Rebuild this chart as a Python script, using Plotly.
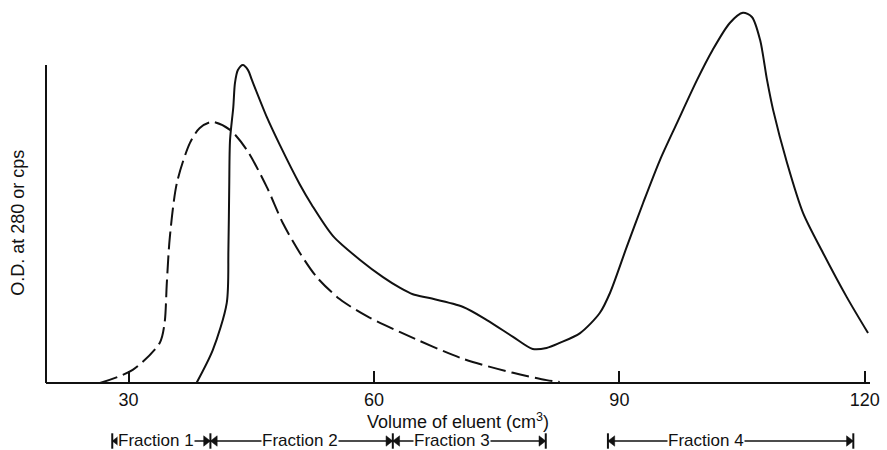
import plotly.graph_objects as go

# Elution profile: volume of eluent (cm3) against optical density / counts
volume_solid = [38.3, 40.3, 42.0, 42.2, 42.3, 42.4, 42.8, 43.0, 43.36, 43.97, 44.6, 45.07,
                46.9, 48.5, 50.9, 52.4, 55.0, 58.3, 61.1, 63.2, 64.75, 66.8, 70.9,
                73.8, 77.0, 79.4, 81.1, 82.7, 85.2, 87.6, 88.85, 90.9, 92.9, 94.96, 97.05,
                99.5, 101.4, 103.5, 105.1, 106.2, 107.2, 108.05, 108.8, 110.5, 112.45,
                114.9, 117.8, 120.4]
od_solid = [0, 10.4, 25.2, 41.8, 61.6, 76.4, 86.8, 94.3, 98.4, 100, 98.4, 95.3,
            83.6, 74.8, 62.6, 56.0, 46.2, 38.7, 33.3, 29.9, 27.9, 26.7, 23.9,
            19.8, 14.5, 10.7, 11.0, 12.6, 15.7, 22.0, 28.3, 42.8, 56.6, 70.1, 81.8,
            95.3, 104.7, 113.2, 116.4, 115.1, 107.9, 95.3, 85.8, 69.2, 53.5,
            40.9, 27.0, 15.7]

volume_dashed = [26.5, 30.5, 33.8, 34.4, 34.67, 35.04, 35.9, 37.5, 38.7, 40.2, 42.4,
                 44.45, 46.9, 48.85, 50.94, 53.0, 55.8, 59.13, 63.2,
                 70.87, 77.0, 81.1, 82.7]
od_dashed = [0, 4.1, 12.6, 18.9, 31.4, 45.9, 62.9, 75.5, 80.2, 82.1, 79.6,
             73.3, 61.6, 50.3, 40.9, 33.3, 26.4, 21.0, 16.0,
             7.6, 3.2, 0.9, 0.3]

x_ticks = [30, 60, 90, 120]

# Collected fractions: start, end, label and label position
fraction_start = [28.0, 40.0, 62.3, 88.6]
fraction_end = [40.0, 62.3, 81.0, 118.6]
fraction_labels = ["Fraction 1", "Fraction 2", "Fraction 3", "Fraction 4"]
fraction_label_x = [33.4, 51.0, 69.5, 100.6]

FONT = "Liberation Sans, Arial, sans-serif"
INK = "#111111"

# Plot geometry (pixels) used to place the bracket row and arrow tips
W, H = 887, 450
M_L, M_R, M_T, M_B = 46, 17, 8, 0
X_RANGE = [19.9, 120.64]
Y_RANGE = [-21.07, 117.92]
px_per_x = (W - M_L - M_R) / (X_RANGE[1] - X_RANGE[0])
px_per_y = (H - M_T - M_B) / (Y_RANGE[1] - Y_RANGE[0])
ROW_Y = -58 / px_per_y          # bracket row sits below the abscissa
TIP = 4.5 / px_per_x            # distance from a triangle's centre to its tip
Y_TOP = 100                     # height of the drawn ordinate line

fig = go.Figure()

fig.add_trace(go.Scatter(
    x=volume_dashed, y=od_dashed, mode="lines",
    line=dict(color=INK, width=2, dash="18px,6px", shape="spline", smoothing=0.8),
    hoverinfo="skip", showlegend=False))

fig.add_trace(go.Scatter(
    x=volume_solid, y=od_solid, mode="lines",
    line=dict(color=INK, width=2, shape="spline", smoothing=0.8),
    hoverinfo="skip", showlegend=False))

# Bracket shafts
shaft_x, shaft_y = [], []
for s, e in zip(fraction_start, fraction_end):
    shaft_x += [s, e, None]
    shaft_y += [ROW_Y, ROW_Y, None]
fig.add_trace(go.Scatter(
    x=shaft_x, y=shaft_y, mode="lines", line=dict(color=INK, width=1.3),
    hoverinfo="skip", showlegend=False))

# Arrowheads pointing outward to the end bars
fig.add_trace(go.Scatter(
    x=[s + TIP for s in fraction_start], y=[ROW_Y] * len(fraction_start),
    mode="markers", marker=dict(symbol="triangle-left", size=9, color=INK,
                                line=dict(color=INK, width=0.5)),
    cliponaxis=False, hoverinfo="skip", showlegend=False))
fig.add_trace(go.Scatter(
    x=[e - TIP for e in fraction_end], y=[ROW_Y] * len(fraction_end),
    mode="markers", marker=dict(symbol="triangle-right", size=9, color=INK,
                                line=dict(color=INK, width=0.5)),
    cliponaxis=False, hoverinfo="skip", showlegend=False))

# End bars
bar_x = sorted(set(fraction_start + fraction_end))
fig.add_trace(go.Scatter(
    x=bar_x, y=[ROW_Y] * len(bar_x), mode="markers",
    marker=dict(symbol="line-ns-open", size=11, color=INK,
                line=dict(color=INK, width=2)),
    cliponaxis=False, hoverinfo="skip", showlegend=False))

annotations = []
# Fraction labels, masking the shaft behind them
for lx, lab in zip(fraction_label_x, fraction_labels):
    annotations.append(dict(
        x=lx, y=ROW_Y, xref="x", yref="y", text=lab, showarrow=False,
        bgcolor="white", borderpad=0, xanchor="center", yanchor="middle",
        yshift=1, font=dict(family=FONT, size=17, color=INK)))

# Ordinate title
annotations.append(dict(
    x=-0.034, y=0.514, xref="paper", yref="paper", text="O.D. at 280 or cps",
    textangle=-90, showarrow=False, xanchor="center", yanchor="middle",
    font=dict(family=FONT, size=18, color=INK)))

fig.update_layout(
    width=W, height=H,
    margin=dict(l=M_L, r=M_R, t=M_T, b=M_B),
    paper_bgcolor="white", plot_bgcolor="white",
    annotations=annotations,
    shapes=[dict(type="line", xref="paper", yref="y", x0=0, x1=0, y0=0, y1=Y_TOP,
                 line=dict(color=INK, width=2))],
    xaxis=dict(
        range=X_RANGE, anchor="free", position=(H - 383) / (H - M_T - M_B),
        showline=True, linecolor=INK, linewidth=2,
        ticks="inside", ticklen=11, tickwidth=1.5, tickcolor=INK,
        tickvals=x_ticks, ticktext=[str(v) for v in x_ticks],
        tickfont=dict(family=FONT, size=18, color=INK),
        title=dict(text="Volume of eluent (cm<sup>3</sup>)", standoff=2,
                   font=dict(family=FONT, size=18, color=INK)),
        showgrid=False, zeroline=False, fixedrange=True),
    yaxis=dict(range=Y_RANGE, visible=False, showgrid=False,
               zeroline=False, fixedrange=True),
)

fig.write_html("out.html")
